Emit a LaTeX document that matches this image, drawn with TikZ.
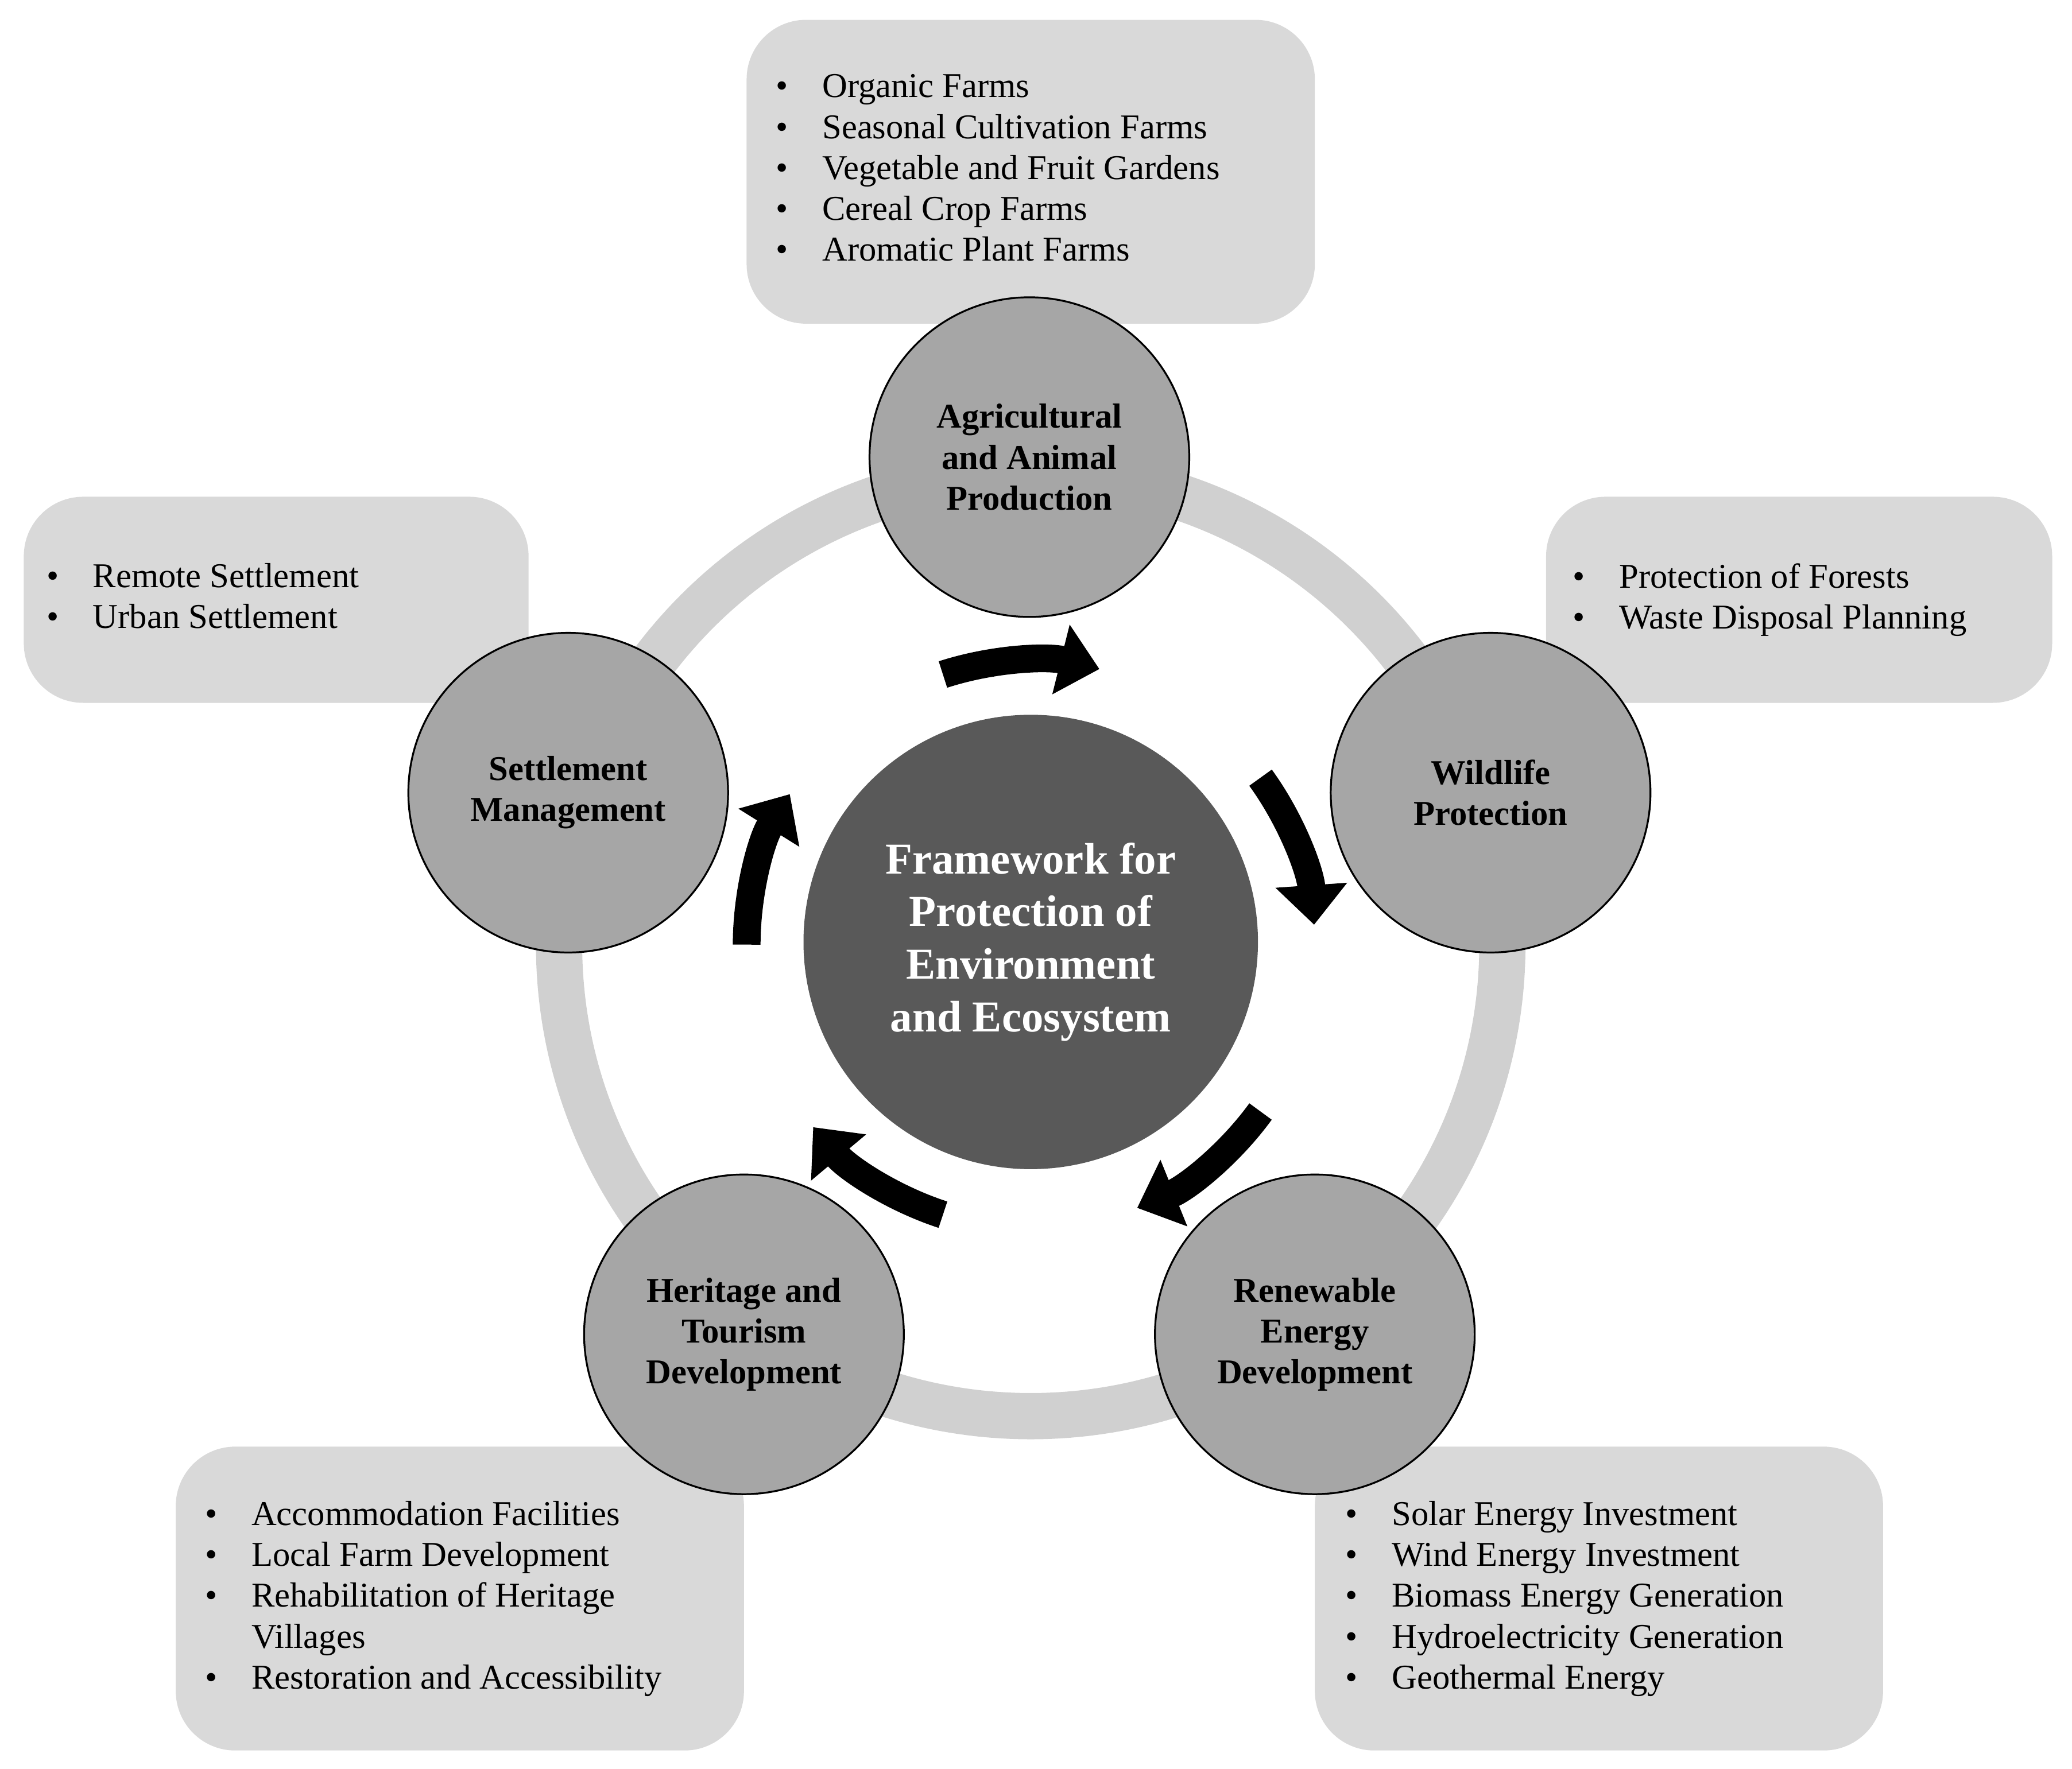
\documentclass[tikz,border=0pt]{standalone}
\usepackage{fontspec}
\setmainfont{Liberation Serif}
\usetikzlibrary{arrows.meta}
\definecolor{boxg}{HTML}{D9D9D9}
\definecolor{ringg}{HTML}{D0D0D0}
\definecolor{circg}{HTML}{A6A6A6}
\definecolor{darkg}{HTML}{595959}
\newcommand{\bl}{\makebox[0.7cm][l]{\textbullet}}
\tikzset{
 infobox/.style={fill=boxg,draw=none,rounded corners=0.9cm},
 topic/.style={circle,draw=black,line width=0.8pt,fill=circg,minimum size=4.84cm,align=center,font=\fontsize{15}{17.6}\selectfont\bfseries},
 listtxt/.style={anchor=north west,inner sep=0pt,align=left,font=\fontsize{15}{17.6}\selectfont},
 cyc/.style={line width=0.42cm,-{Triangle[length=0.6cm,width=1.05cm]}}
}
\begin{document}
\begin{tikzpicture}[x=0.02cm,y=-0.02cm]
\useasboundingbox (0,0) rectangle (1568,1339);
% boxes
\path[infobox] (565,15) rectangle (995,245);
\path[infobox] (18,376) rectangle (400,532);
\path[infobox] (1170,376) rectangle (1553,532);
\path[infobox] (133,1095) rectangle (563,1325);
\path[infobox] (995,1095) rectangle (1425,1325);
% lists
\node[listtxt] (l1) at (587,56) {\bl Organic Farms\\ \bl Seasonal Cultivation Farms\\ \bl Vegetable and Fruit Gardens\\ \bl Cereal Crop Farms\\ \bl Aromatic Plant Farms};
\node[listtxt] (l2) at (35,426) {\bl Remote Settlement\\ \bl Urban Settlement};
\node[listtxt] (l3) at (1190,426) {\bl Protection of Forests\\ \bl Waste Disposal Planning};
\node[listtxt] (l4) at (155,1136) {\bl Accommodation Facilities\\ \bl Local Farm Development\\ \bl Rehabilitation of Heritage\\ \hspace*{0.7cm}Villages\\ \bl Restoration and Accessibility};
\node[listtxt] (l5) at (1018,1136) {\bl Solar Energy Investment\\ \bl Wind Energy Investment\\ \bl Biomass Energy Generation\\ \bl Hydroelectricity Generation\\ \bl Geothermal Energy};
% ring
\coordinate (c) at (780,715);
\draw[ringg,line width=0.7cm] (c) circle[radius=7.14cm];
% arrows
\foreach \a in {90,18,-54,-126,162}{
  \draw[cyc] ([shift={(\a+18:4.3cm)}]c) arc[start angle=\a+18,end angle=\a-14,radius=4.3cm];
}
% center
\node[circle,fill=darkg,minimum size=6.88cm,align=center,text=white,font=\fontsize{19}{22.7}\selectfont\bfseries] (ctr) at (780,713) {Framework for\\Protection of\\Environment\\and Ecosystem};
% topics
\node[topic] (t1) at (779,346) {Agricultural\\and Animal\\Production};
\node[topic] (t2) at (1128,600) {Wildlife\\Protection};
\node[topic] (t3) at (995,1010) {Renewable\\Energy\\Development};
\node[topic] (t4) at (563,1010) {Heritage and\\Tourism\\Development};
\node[topic] (t5) at (430,600) {Settlement\\Management};
\end{tikzpicture}
\end{document}
